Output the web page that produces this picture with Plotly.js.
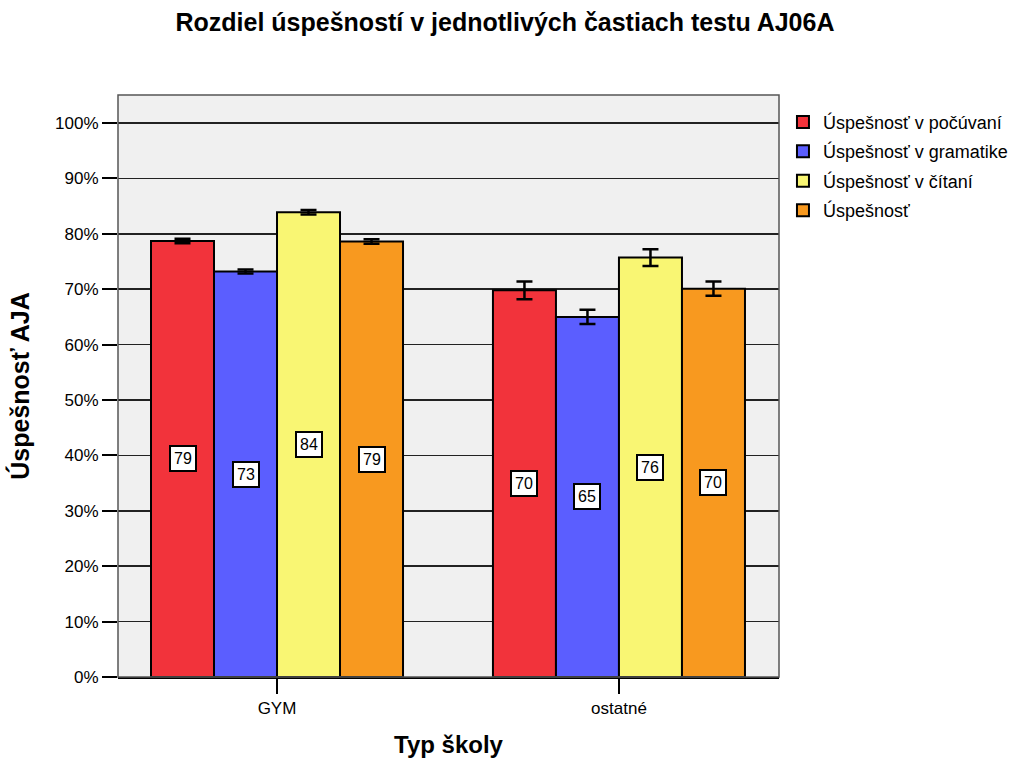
<!DOCTYPE html>
<html>
<head>
<meta charset="utf-8">
<script src="https://cdn.plot.ly/plotly-3.0.1.min.js"></script>
<style>
html,body{margin:0;padding:0;background:#fff;}
#chart{width:1010px;height:758px;}
</style>
</head>
<body>
<div id="chart"></div>
<script>
// ---- data ----
const categories = ['GYM', 'ostatné'];
const seriesNames = ['Úspešnosť v počúvaní', 'Úspešnosť v gramatike', 'Úspešnosť v čítaní', 'Úspešnosť'];
const valPocuvanie = [78.7, 69.8];
const valGramatika = [73.2, 65.0];
const valCitanie   = [83.9, 75.7];
const valCelkom    = [78.6, 70.1];
const errPocuvanie = [0.4, 1.6];
const errGramatika = [0.35, 1.3];
const errCitanie   = [0.4, 1.5];
const errCelkom    = [0.4, 1.3];
const yTickVals = [0,10,20,30,40,50,60,70,80,90,100];
const yTickText = yTickVals.map(v => v + '%');

// ---- styles ----
const colors = ['#F2333B', '#5B5EFF', '#F9F673', '#F8991F'];
const values = [valPocuvanie, valGramatika, valCitanie, valCelkom];
const errors = [errPocuvanie, errGramatika, errCitanie, errCelkom];
const FONT = '"Liberation Sans", Arial, Helvetica, sans-serif';
const bargap = 0.263;
const xIdx = categories.map((c, i) => i);

const traces = values.map((v, s) => ({
  type: 'bar',
  name: seriesNames[s],
  legendgroup: 'g' + s,
  x: xIdx,
  y: v,
  marker: {color: colors[s], line: {color: '#000', width: 2}},
  error_y: {type: 'data', array: errors[s], visible: true, color: '#000', thickness: 2.5, width: 8},
  hoverinfo: 'skip'
}));

// value labels at half bar height
const groupW = 1 - bargap;
const barW = groupW / values.length;
const annotations = [];
values.forEach((v, s) => {
  v.forEach((val, c) => {
    annotations.push({
      x: c - groupW / 2 + barW * (s + 0.5),
      y: val / 2,
      xref: 'x', yref: 'y',
      text: String(Math.round(val)),
      showarrow: false,
      font: {family: FONT, size: 16, color: '#000'},
      bgcolor: '#fff',
      bordercolor: '#000',
      borderwidth: 2,
      borderpad: 3
    });
  });
});

const layout = {
  width: 1010, height: 758,
  paper_bgcolor: '#fff',
  plot_bgcolor: '#F0F0F0',
  margin: {l: 118, r: 231, t: 95, b: 81, autoexpand: false},
  barmode: 'group',
  bargap: bargap,
  bargroupgap: 0,
  font: {family: FONT, color: '#000'},
  title: {
    text: '<b>Rozdiel úspešností v jednotlivých častiach testu AJ06A</b>',
    font: {family: FONT, size: 25, color: '#000'},
    x: 0.5, xref: 'container', xanchor: 'center',
    y: 0.97, yref: 'container', yanchor: 'middle'
  },
  xaxis: {
    range: [-0.465, 1.468],
    tickvals: xIdx,
    ticktext: categories,
    ticks: 'outside', ticklen: 15, tickwidth: 2, tickcolor: '#000',
    showgrid: false, zeroline: false,
    showline: true, linecolor: '#000', linewidth: 2,
    tickfont: {family: FONT, size: 17, color: '#000'},
    title: {text: '<b>Typ školy</b>', font: {family: FONT, size: 24, color: '#000'}, standoff: 22}
  },
  yaxis: {
    range: [0, 105.05],
    tickvals: yTickVals,
    ticktext: yTickText,
    ticks: 'outside', ticklen: 15, tickwidth: 2, tickcolor: '#000',
    showgrid: true, gridcolor: '#222', gridwidth: 1.5,
    zeroline: false, showline: false,
    tickfont: {family: FONT, size: 17, color: '#000'},
    title: {text: '<b>Úspešnosť AJA</b>', font: {family: FONT, size: 25, color: '#000'}, standoff: 18}
  },
  legend: {
    x: 1.006, xanchor: 'left', y: 0.985, yanchor: 'top',
    bgcolor: 'rgba(0,0,0,0)',
    font: {family: FONT, size: 18, color: '#000'},
    tracegroupgap: 3,
    itemclick: false
  },
  shapes: [{
    type: 'rect', xref: 'paper', yref: 'paper', x0: 0, x1: 1, y0: 0, y1: 1,
    line: {color: '#555', width: 1.5}, fillcolor: 'rgba(0,0,0,0)', layer: 'above'
  }],
  annotations: annotations,
  showlegend: true
};

Plotly.newPlot('chart', traces, layout, {staticPlot: true, displayModeBar: false});
</script>
</body>
</html>
